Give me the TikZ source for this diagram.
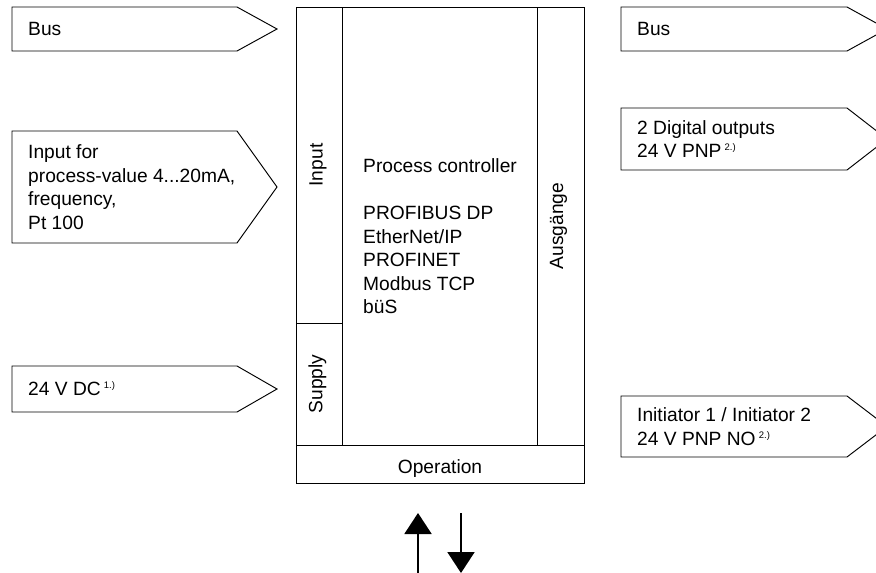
\documentclass[tikz,border=0pt]{standalone}
\usepackage{fontspec}
\setmainfont{Liberation Sans}
\usetikzlibrary{arrows.meta}

% small raised footnote mark
\newcommand{\supnote}[1]{{\fontsize{9.5}{9.5}\selectfont\raisebox{7pt}{#1}}}

\begin{document}
\begin{tikzpicture}[x=1pt,y=-1pt]

    % Define some common styles
    \tikzset{
        outline/.style={draw=black, line width=0.95pt},
        txt/.style={font=\fontsize{19.2}{23.5}\selectfont, inner sep=0pt, align=left},
        flow/.style={line width=2pt, -{Triangle[width=27pt,length=21pt]}}
    }

    % Page frame
    \clip (0,0) rectangle (876,573);

    % Left signal arrows (inputs)
    \draw[outline] (12,7) -- (237,7) -- (277,29) -- (237,51) -- (12,51) -- cycle;
    \node[txt, anchor=west] (busin) at (28,29) {Bus};

    \draw[outline] (12,131) -- (237,131) -- (277,187) -- (237,243) -- (12,243) -- cycle;
    \node[txt, anchor=west] (procin) at (28,187)
        {Input for\\process-value 4...20mA,\\frequency,\\Pt 100};

    \draw[outline] (12,366) -- (237,366) -- (277,389) -- (237,412) -- (12,412) -- cycle;
    \node[txt, anchor=west] (supplyin) at (28,389) {24 V DC\,\supnote{1.)}};

    % Right signal arrows (outputs)
    \draw[outline] (621,7) -- (847,7) -- (887,29) -- (847,51) -- (621,51) -- cycle;
    \node[txt, anchor=west] (busout) at (637,29) {Bus};

    \draw[outline] (621,108) -- (847,108) -- (887,139) -- (847,170) -- (621,170) -- cycle;
    \node[txt, anchor=west] (digout) at (637,139)
        {2 Digital outputs\\24 V PNP\,\supnote{2.)}};

    \draw[outline] (621,396) -- (847,396) -- (887,426.5) -- (847,457) -- (621,457) -- cycle;
    \node[txt, anchor=west] (initout) at (637,426.5)
        {Initiator 1 / Initiator 2\\24 V PNP NO\,\supnote{2.)}};

    % Main controller body
    \draw[outline] (296,7) rectangle (584,483);
    \draw[outline] (342,7) -- (342,445);
    \draw[outline] (537,7) -- (537,445);
    \draw[outline] (296,445) -- (584,445);
    \draw[outline] (296,323) -- (342,323);

    % Column labels
    \node[txt, rotate=90] (input) at (318,165) {Input};
    \node[txt, rotate=90] (supply) at (317.5,384) {Supply};
    \node[txt, rotate=90] (outputs) at (558.5,226) {Ausgänge};
    \node[txt, anchor=base] (operation) at (440,473.5) {Operation};

    \node[txt, anchor=west] (controller) at (363,236.5)
        {Process controller\\[23.5pt]PROFIBUS DP\\EtherNet/IP\\PROFINET\\Modbus TCP\\büS};

    % Operation arrows
    \coordinate (upfoot) at (418,574);
    \coordinate (uptip) at (418,513);
    \coordinate (downtop) at (461,513);
    \coordinate (downtip) at (461,573);
    \draw[flow] (upfoot) -- (uptip);
    \draw[flow] (downtop) -- (downtip);

\end{tikzpicture}
\end{document}
